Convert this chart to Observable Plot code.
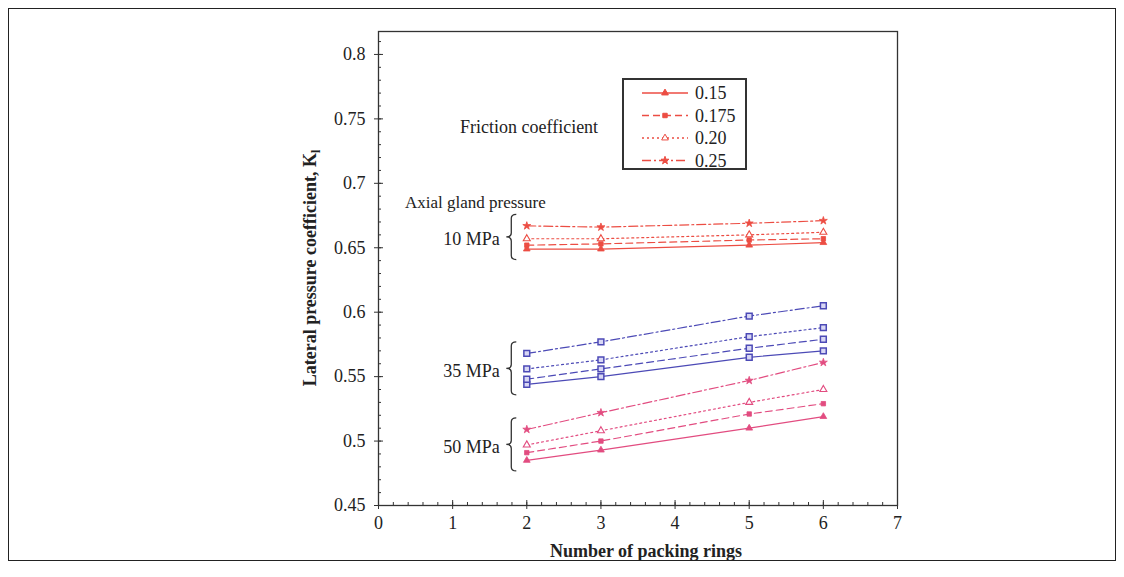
<!DOCTYPE html>
<html><head><meta charset="utf-8">
<script src="https://cdn.jsdelivr.net/npm/d3@7"></script>
<script src="https://cdn.jsdelivr.net/npm/@observablehq/plot@0.6"></script>
<style>
body{margin:0;background:#fff;}
#wrap{position:relative;width:1124px;height:577px;}
#border{position:absolute;left:8px;top:8px;width:1108px;height:553px;border:1.5px solid #222;box-sizing:border-box;pointer-events:none;}
</style></head><body><div id="wrap"><div id="border"></div></div>
<script>
// ---- data ----
const rings = [2, 3, 5, 6];
const frictionCoefficients = ["0.15", "0.175", "0.20", "0.25"];
const pressures = ["10 MPa", "35 MPa", "50 MPa"];
// lateral pressure coefficient, one row per friction coefficient (0.15, 0.175, 0.20, 0.25)
const k10MPa = [
  [0.649, 0.649, 0.652, 0.654],
  [0.652, 0.653, 0.656, 0.657],
  [0.657, 0.657, 0.660, 0.662],
  [0.667, 0.666, 0.669, 0.671]
];
const k35MPa = [
  [0.544, 0.550, 0.565, 0.570],
  [0.548, 0.556, 0.572, 0.579],
  [0.556, 0.563, 0.581, 0.588],
  [0.568, 0.577, 0.597, 0.605]
];
const k50MPa = [
  [0.485, 0.493, 0.510, 0.519],
  [0.491, 0.500, 0.521, 0.529],
  [0.497, 0.508, 0.530, 0.540],
  [0.509, 0.522, 0.547, 0.561]
];
const xTicks = [0, 1, 2, 3, 4, 5, 6, 7];
const yTicks = [0.45, 0.5, 0.55, 0.6, 0.65, 0.7, 0.75, 0.8];

// ---- build table ----
const series = {"10 MPa": k10MPa, "35 MPa": k35MPa, "50 MPa": k50MPa};
const rows = [];
for (const p of pressures) series[p].forEach((vals, i) => vals.forEach((k, j) =>
  rows.push({pressure: p, fc: frictionCoefficients[i], rings: rings[j], k})));

const W = 1124, H = 577, mL = 378, mR = 227, mT = 31, mB = 72;
const xDom = [0, 7], yDom = [0.45, 0.8178];
const ux = (xDom[1] - xDom[0]) / (W - mL - mR);
const uy = (yDom[1] - yDom[0]) / (H - mT - mB);
const yMinor = d3.range(45, 82).map(d => d / 100);
const xMinor = d3.range(0, 36).map(d => d / 5);
const colors = ["#ec4d43", "#4c4ab6", "#e24c80"];
const dashes = {"0.15": undefined, "0.175": "7,4", "0.20": "2,3", "0.25": "9,3,2,3"};
const symbols = ["triangle", "square", "triangle", "star"];
const font = "'Liberation Serif','Times New Roman',serif";

const groupMid = pressures.map(p => {
  const v = rows.filter(r => r.pressure === p && r.rings === rings[0]).map(r => r.k);
  return {pressure: p, x: rings[0], lo: d3.min(v), hi: d3.max(v), y: (d3.min(v) + d3.max(v)) / 2};
});

const plot = Plot.plot({
  width: W, height: H,
  marginLeft: mL, marginRight: mR, marginTop: mT, marginBottom: mB,
  style: {fontFamily: font, fontSize: "18px", color: "#222", background: "transparent", overflow: "visible"},
  x: {domain: xDom},
  y: {domain: yDom},
  color: {domain: pressures, range: colors},
  symbol: {domain: frictionCoefficients, range: symbols},
  marks: [
    Plot.frame({stroke: "#333", strokeWidth: 1.3}),
    Plot.axisY({ticks: yTicks, tickSize: 4, tickPadding: 9, tickFormat: d => String(d), label: null, stroke: "#333"}),
    Plot.axisX({ticks: xTicks, tickSize: 4, tickPadding: 7, tickFormat: d => String(d), label: null, stroke: "#333"}),
    Plot.ruleY(yTicks, {y: d => d, x1: xDom[0], x2: xDom[0] + 5 * ux, stroke: "#333"}),
    Plot.ruleY(yMinor, {y: d => d, x1: xDom[0], x2: xDom[0] + 3 * ux, stroke: "#333"}),
    Plot.ruleX(xTicks, {x: d => d, y1: yDom[0], y2: yDom[0] + 5 * uy, stroke: "#333"}),
    Plot.ruleX(xMinor, {x: d => d, y1: yDom[0], y2: yDom[0] + 3 * uy, stroke: "#333"}),
    ...frictionCoefficients.map(fc => Plot.line(rows.filter(r => r.fc === fc),
      {x: "rings", y: "k", z: "pressure", stroke: "pressure", strokeWidth: 1.2, strokeDasharray: dashes[fc]})),
    Plot.dot(rows.filter(r => r.pressure !== "35 MPa" && r.fc !== "0.20"),
      {x: "rings", y: "k", symbol: "fc", fill: "pressure", stroke: "pressure", strokeWidth: 0.8, r: 2.5}),
    Plot.dot(rows.filter(r => r.pressure !== "35 MPa" && r.fc === "0.20"),
      {x: "rings", y: "k", symbol: "fc", fill: "white", stroke: "pressure", strokeWidth: 1.1, r: 2.6}),
    Plot.dot(rows.filter(r => r.pressure === "35 MPa"),
      {x: "rings", y: "k", symbol: "square", fill: "#d8d7f4", stroke: "pressure", strokeWidth: 1.5, r: 3.3}),
    Plot.text(groupMid, {x: "x", y: "y", text: "pressure", dx: -27, dy: 2, textAnchor: "end", fill: "#222", fontSize: 18})
  ]
});

const svg = d3.select(plot);
const xs = plot.scale("x"), ys = plot.scale("y");

// braces
for (const g of groupMid) {
  const xr = xs.apply(g.x) - 10, xl = xr - 10, xm = (xl + xr) / 2;
  const y1 = ys.apply(g.hi) - 11, y2 = ys.apply(g.lo) + 11, ym = (y1 + y2) / 2, r = 4;
  svg.append("path")
    .attr("d", `M${xr},${y1} Q${xm},${y1} ${xm},${y1 + r} L${xm},${ym - r} Q${xm},${ym} ${xl},${ym} Q${xm},${ym} ${xm},${ym + r} L${xm},${y2 - r} Q${xm},${y2} ${xr},${y2}`)
    .attr("fill", "none").attr("stroke", "#333").attr("stroke-width", 1.3);
}

// annotations
const ann = svg.append("g").attr("font-family", font).attr("fill", "#222").attr("text-anchor", "start");
ann.append("text").attr("x", 460).attr("y", 133).attr("font-size", 18).text("Friction coefficient");
ann.append("text").attr("x", 405).attr("y", 208).attr("font-size", 17).text("Axial gland pressure");

// axis labels
const yl = ann.append("text").attr("transform", "translate(316,268) rotate(-90)")
  .attr("text-anchor", "middle").attr("font-size", 18).attr("font-weight", "bold");
yl.append("tspan").text("Lateral pressure coefficient, K");
yl.append("tspan").attr("font-size", 12).attr("dy", 4).text("l");
ann.append("text").attr("x", 646).attr("y", 557).attr("text-anchor", "middle")
  .attr("font-size", 18).attr("font-weight", "bold").text("Number of packing rings");

// legend
const lg = svg.append("g").attr("font-family", font).attr("text-anchor", "start");
lg.append("rect").attr("x", 623).attr("y", 79).attr("width", 123).attr("height", 90)
  .attr("fill", "white").attr("stroke", "#333").attr("stroke-width", 2);
const legendColor = colors[0];
frictionCoefficients.forEach((fc, i) => {
  const y = 93 + i * 22.5;
  lg.append("line").attr("x1", 642).attr("x2", 688).attr("y1", y).attr("y2", y)
    .attr("stroke", legendColor).attr("stroke-width", 1.3).attr("stroke-dasharray", dashes[fc] || null);
  const sym = {triangle: d3.symbolTriangle, square: d3.symbolSquare, star: d3.symbolStar}[symbols[i]];
  lg.append("path").attr("transform", `translate(665,${y})`)
    .attr("d", d3.symbol(sym, 2.5 * 2.5 * Math.PI)())
    .attr("fill", fc === "0.20" ? "white" : legendColor).attr("stroke", legendColor).attr("stroke-width", 1);
  lg.append("text").attr("x", 695).attr("y", y).attr("dy", "0.35em").attr("font-size", 18)
    .attr("fill", "#222").text(fc);
});

document.getElementById("wrap").prepend(plot);
</script>
</body></html>
